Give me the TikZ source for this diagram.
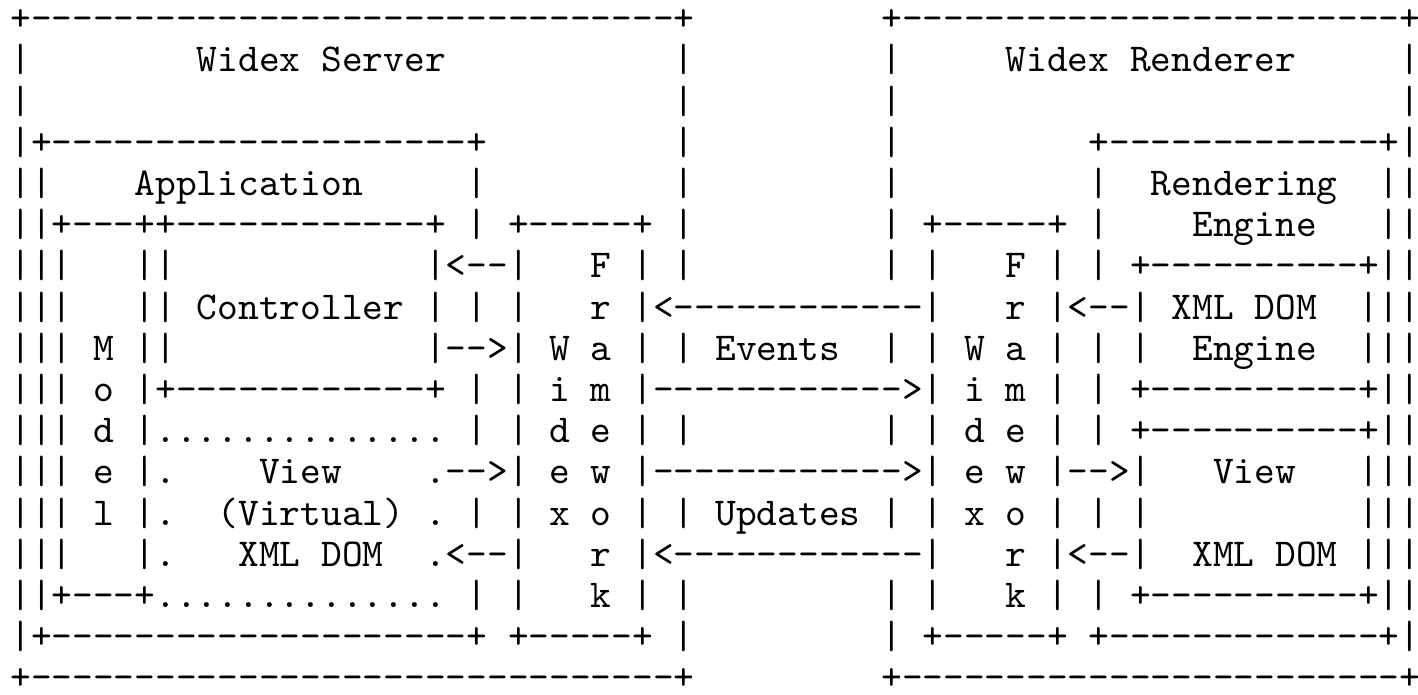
\documentclass[tikz,border=0pt]{standalone}
\usepackage{fontspec}
\setmonofont{lmmono10-regular.otf}
\begin{document}
\begin{tikzpicture}[x=0.5pt,y=0.5pt,
    textline/.style = {anchor=base west,inner sep=0pt,outer sep=0pt,
        font=\ttfamily\fontsize{19.75pt}{22pt}\selectfont}]
    \useasboundingbox (0,0) rectangle (1418,-695);
    % server and renderer, one text line each
    \node[textline] (r1)  at (10.3,-30.7)  {\obeyspaces+-------------------------------+         +------------------------+};
    \node[textline] (r2)  at (10.3,-71.9)  {\obeyspaces|        Widex Server           |         |     Widex Renderer     |};
    \node[textline] (r3)  at (10.3,-113.1) {\obeyspaces|                               |         |                        |};
    \node[textline] (r4)  at (10.3,-154.3) {\obeyspaces|+--------------------+         |         |         +-------------+|};
    \node[textline] (r5)  at (10.3,-195.5) {\obeyspaces||    Application     |         |         |         |  Rendering  ||};
    \node[textline] (r6)  at (10.3,-236.7) {\obeyspaces||+---++------------+ | +-----+ |         | +-----+ |    Engine   ||};
    \node[textline] (r7)  at (10.3,-277.9) {\obeyspaces|||   ||            |<--|   F | |         | |   F | | +----------+||};
    \node[textline] (r8)  at (10.3,-319.1) {\obeyspaces|||   || Controller | | |   r |<------------|   r |<--| XML DOM  |||};
    \node[textline] (r9)  at (10.3,-360.3) {\obeyspaces||| M ||            |-->| W a | | Events  | | W a | | |  Engine  |||};
    \node[textline] (r10) at (10.3,-401.5) {\obeyspaces||| o |+------------+ | | i m |------------>| i m | | +----------+||};
    \node[textline] (r11) at (10.3,-442.7) {\obeyspaces||| d |.............. | | d e | |         | | d e | | +----------+||};
    \node[textline] (r12) at (10.3,-483.9) {\obeyspaces||| e |.    View    .-->| e w |------------>| e w |-->|   View   |||};
    \node[textline] (r13) at (10.3,-525.1) {\obeyspaces||| l |.  (Virtual) . | | x o | | Updates | | x o | | |          |||};
    \node[textline] (r14) at (10.3,-566.3) {\obeyspaces|||   |.   XML DOM  .<--|   r |<------------|   r |<--|  XML DOM |||};
    \node[textline] (r15) at (10.3,-607.5) {\obeyspaces||+---+.............. | |   k | |         | |   k | | +----------+||};
    \node[textline] (r16) at (10.3,-648.7) {\obeyspaces|+--------------------+ +-----+ |         | +-----+ +-------------+|};
    \node[textline] (r17) at (10.3,-689.9) {\obeyspaces+-------------------------------+         +------------------------+};
\end{tikzpicture}
\end{document}
